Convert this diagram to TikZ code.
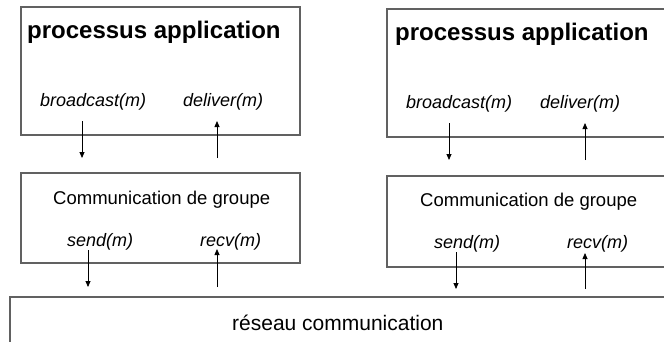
\documentclass[tikz,border=0pt]{standalone}
\usepackage{fontspec}
\setmainfont{Liberation Sans}
\usetikzlibrary{arrows.meta}
\begin{document}
\begin{tikzpicture}[x=1pt,y=-1pt,
  frame/.style={draw=black!62,line width=1.1pt},
  txt/.style={inner sep=0pt,anchor=base west},
  title/.style={txt,font=\fontsize{24}{28}\selectfont\bfseries},
  call/.style={txt,font=\fontsize{18}{22}\selectfont\itshape},
  layer/.style={txt,font=\fontsize{18.5}{22}\selectfont},
  arr/.style={draw=black,line width=0.8pt,-{Triangle[length=6pt,width=5pt]}}]
\useasboundingbox (0,0) rectangle (664,341);
\clip (0,0) rectangle (664,341);
% boxes
\draw[frame] (21,7) rectangle (300,135);
\draw[frame] (387,9) rectangle (720,137);
\draw[frame] (21,173) rectangle (300,263);
\draw[frame] (387,176) rectangle (720,267);
\draw[frame] (10,297) rectangle (720,380);
% left process
\node[title] (titleL) at (27,38) {processus application};
\node[call] (bcL) at (40,106.5) {broadcast(m)};
\node[call] (dlL) at (183,106.5) {deliver(m)};
\node[layer] (grpL) at (53,204.5) {Communication de groupe};
\node[call] (sdL) at (67,246) {send(m)};
\node[call] (rvL) at (200,246) {recv(m)};
% right process
\node[title] (titleR) at (395,40) {processus application};
\node[call] (bcR) at (406,108.5) {broadcast(m)};
\node[call] (dlR) at (540,108.5) {deliver(m)};
\node[layer] (grpR) at (420,206.5) {Communication de groupe};
\node[call] (sdR) at (434,248) {send(m)};
\node[call] (rvR) at (567,248) {recv(m)};
% network
\node[txt,font=\fontsize{21}{25}\selectfont] (net) at (232,330) {réseau communication};
% arrow end points
\coordinate (bcLa) at (82,121);  \coordinate (bcLb) at (82,158);
\coordinate (dlLa) at (217,158); \coordinate (dlLb) at (217,121);
\coordinate (sdLa) at (88,250);  \coordinate (sdLb) at (88,287);
\coordinate (rvLa) at (217,287); \coordinate (rvLb) at (217,249);
\coordinate (bcRa) at (449,123); \coordinate (bcRb) at (449,160);
\coordinate (dlRa) at (585,160); \coordinate (dlRb) at (585,123);
\coordinate (sdRa) at (456,252); \coordinate (sdRb) at (456,289);
\coordinate (rvRa) at (585,289); \coordinate (rvRb) at (585,253);
\foreach \a in {bcL,dlL,sdL,rvL,bcR,dlR,sdR,rvR}
  \draw[arr] (\a a) -- (\a b);
\end{tikzpicture}
\end{document}
